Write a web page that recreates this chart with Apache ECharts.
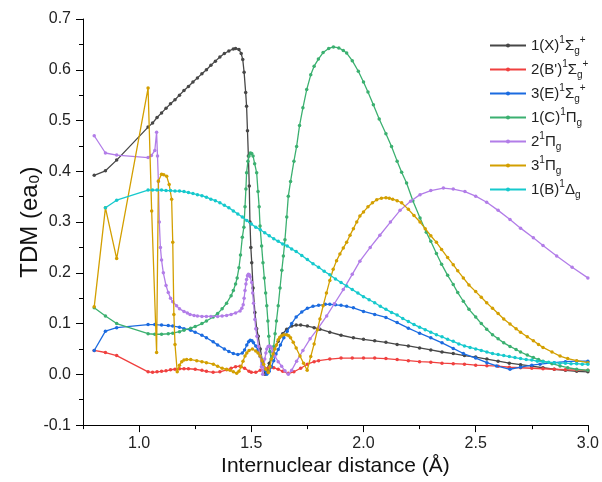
<!DOCTYPE html>
<html><head><meta charset="utf-8">
<script src="https://cdn.jsdelivr.net/npm/echarts@6/dist/echarts.min.js"></script>
<style>html,body{margin:0;padding:0;background:#fff}#c{width:602px;height:482px}</style>
</head><body><div id="c"></div>
<script>
// Series names (plain) and legend labels (rich text)
const seriesNames = ['1(X)1Σg+', "2(B')1Σg+", '3(E)1Σg+', '1(C)1Πg', '21Πg', '31Πg', '1(B)1Δg'];
const legendLabels = ['1(X){sup|1}Σ{sub|g}{sup|+}', "2(B'){sup|1}Σ{sub|g}{sup|+}", '3(E){sup|1}Σ{sub|g}{sup|+}',
  '1(C){sup|1}Π{sub|g}', '2{sup|1}Π{sub|g}', '3{sup|1}Π{sub|g}', '1(B){sup|1}Δ{sub|g}'];
const colors = ['#474747', '#f0403f', '#1b6be0', '#3bb070', '#b27de8', '#d39f00', '#16c9cd'];
const xTicks = [1.0, 1.5, 2.0, 2.5, 3.0];
const xMinorTicks = [0.75, 1.25, 1.75, 2.25, 2.75];

const sX = [[0.8,0.392],[0.85,0.401],[0.9,0.422],[1.04,0.487],[1.06,0.495],[1.08,0.506],[1.1,0.515],[1.12,0.524],[1.14,0.533],[1.16,0.541],[1.18,0.55],[1.2,0.559],[1.22,0.567],[1.24,0.576],[1.26,0.584],[1.28,0.592],[1.3,0.600],[1.32,0.609],[1.34,0.617],[1.36,0.625],[1.38,0.632],[1.4,0.637],[1.42,0.641],[1.43,0.642],[1.445,0.640],[1.455,0.632],[1.462,0.62],[1.468,0.595],[1.475,0.555],[1.479,0.528],[1.483,0.48],[1.487,0.43],[1.491,0.371],[1.494,0.30],[1.498,0.25],[1.502,0.22],[1.508,0.17],[1.516,0.122],[1.524,0.09],[1.531,0.075],[1.54,0.05],[1.55,0.025],[1.561,0.0],[1.57,0.01],[1.58,0.022],[1.598,0.043],[1.62,0.065],[1.64,0.08],[1.658,0.089],[1.68,0.095],[1.70,0.097],[1.72,0.097],[1.75,0.095],[1.78,0.092],[1.806,0.089],[1.85,0.083],[1.9,0.077],[1.955,0.072],[2.0,0.069],[2.05,0.066],[2.1,0.063],[2.15,0.059],[2.2,0.056],[2.25,0.052],[2.3,0.048],[2.35,0.044],[2.4,0.041],[2.45,0.037],[2.5,0.034],[2.55,0.030],[2.6,0.026],[2.65,0.022],[2.7,0.019],[2.75,0.016],[2.8,0.013],[2.85,0.010],[2.9,0.008],[2.95,0.006],[3.0,0.005]];
const sBp = [[0.8,0.047],[0.85,0.043],[0.9,0.037],[1.04,0.005],[1.06,0.004],[1.08,0.005],[1.1,0.006],[1.12,0.007],[1.14,0.009],[1.16,0.010],[1.18,0.011],[1.2,0.011],[1.22,0.011],[1.25,0.010],[1.28,0.008],[1.3,0.006],[1.33,0.004],[1.36,0.005],[1.39,0.009],[1.41,0.012],[1.43,0.015],[1.45,0.016],[1.47,0.012],[1.49,0.006],[1.50,0.004],[1.52,0.004],[1.54,0.008],[1.56,0.012],[1.58,0.013],[1.6,0.013],[1.62,0.010],[1.64,0.006],[1.665,0.002],[1.69,0.005],[1.72,0.012],[1.75,0.02],[1.78,0.025],[1.8,0.027],[1.85,0.030],[1.9,0.032],[1.95,0.032],[2.0,0.032],[2.05,0.032],[2.1,0.031],[2.15,0.029],[2.2,0.027],[2.25,0.025],[2.3,0.024],[2.35,0.022],[2.4,0.021],[2.45,0.020],[2.5,0.018],[2.55,0.017],[2.6,0.016],[2.65,0.014],[2.7,0.013],[2.75,0.012],[2.8,0.011],[2.85,0.010],[2.9,0.009],[2.95,0.0085],[3.0,0.008]];
const sE = [[0.8,0.047],[0.85,0.085],[0.9,0.092],[1.04,0.098],[1.07,0.098],[1.1,0.097],[1.13,0.096],[1.15,0.095],[1.18,0.093],[1.2,0.090],[1.23,0.087],[1.25,0.083],[1.28,0.077],[1.3,0.072],[1.33,0.064],[1.35,0.058],[1.38,0.050],[1.4,0.045],[1.42,0.041],[1.44,0.039],[1.46,0.042],[1.47,0.048],[1.48,0.058],[1.488,0.064],[1.495,0.067],[1.503,0.066],[1.51,0.062],[1.52,0.056],[1.53,0.048],[1.54,0.035],[1.55,0.02],[1.56,0.008],[1.569,0.0],[1.58,0.006],[1.59,0.015],[1.6,0.027],[1.61,0.04],[1.62,0.049],[1.63,0.058],[1.645,0.072],[1.66,0.085],[1.68,0.100],[1.70,0.113],[1.725,0.123],[1.75,0.130],[1.775,0.134],[1.8,0.136],[1.83,0.138],[1.85,0.138],[1.875,0.137],[1.9,0.136],[1.925,0.134],[1.955,0.131],[2.0,0.124],[2.05,0.118],[2.1,0.112],[2.15,0.102],[2.2,0.091],[2.25,0.081],[2.3,0.072],[2.35,0.062],[2.4,0.051],[2.445,0.041],[2.5,0.032],[2.55,0.023],[2.593,0.0165],[2.653,0.010],[2.7,0.014],[2.75,0.018],[2.787,0.020],[2.85,0.023],[2.9,0.025],[2.95,0.026],[3.0,0.026]];
const sC = [[0.8,0.131],[0.85,0.115],[0.9,0.100],[1.04,0.080],[1.07,0.079],[1.1,0.079],[1.13,0.080],[1.15,0.081],[1.18,0.084],[1.2,0.087],[1.23,0.091],[1.25,0.094],[1.28,0.100],[1.3,0.105],[1.33,0.113],[1.35,0.120],[1.37,0.129],[1.39,0.140],[1.41,0.155],[1.42,0.165],[1.43,0.178],[1.437,0.19],[1.445,0.21],[1.452,0.235],[1.46,0.27],[1.467,0.29],[1.472,0.33],[1.476,0.365],[1.479,0.397],[1.485,0.42],[1.49,0.43],[1.496,0.436],[1.502,0.435],[1.508,0.43],[1.515,0.415],[1.524,0.397],[1.53,0.36],[1.535,0.33],[1.539,0.292],[1.546,0.253],[1.552,0.22],[1.558,0.19],[1.564,0.16],[1.569,0.135],[1.574,0.105],[1.578,0.075],[1.583,0.045],[1.588,0.03],[1.594,0.035],[1.6,0.055],[1.606,0.08],[1.612,0.105],[1.62,0.135],[1.628,0.17],[1.636,0.205],[1.643,0.233],[1.65,0.265],[1.658,0.31],[1.665,0.351],[1.675,0.38],[1.69,0.42],[1.702,0.449],[1.715,0.49],[1.73,0.525],[1.747,0.561],[1.765,0.59],[1.78,0.607],[1.799,0.621],[1.82,0.634],[1.845,0.642],[1.866,0.645],[1.89,0.643],[1.91,0.638],[1.925,0.633],[1.95,0.618],[1.977,0.597],[2.0,0.576],[2.02,0.556],[2.044,0.531],[2.07,0.503],[2.1,0.474],[2.125,0.449],[2.15,0.42],[2.17,0.398],[2.192,0.377],[2.22,0.342],[2.252,0.308],[2.28,0.280],[2.3,0.262],[2.325,0.238],[2.348,0.217],[2.375,0.195],[2.4,0.177],[2.42,0.161],[2.445,0.144],[2.47,0.128],[2.5,0.113],[2.525,0.100],[2.549,0.089],[2.575,0.078],[2.6,0.070],[2.625,0.062],[2.653,0.055],[2.68,0.049],[2.7,0.044],[2.73,0.038],[2.757,0.033],[2.78,0.029],[2.8,0.026],[2.84,0.021],[2.876,0.0165],[2.91,0.013],[2.95,0.010],[3.0,0.008]];
const s2P = [[0.8,0.470],[0.85,0.436],[0.9,0.432],[1.04,0.427],[1.055,0.431],[1.07,0.441],[1.078,0.477],[1.082,0.43],[1.086,0.38],[1.09,0.30],[1.095,0.25],[1.1,0.225],[1.108,0.200],[1.12,0.175],[1.13,0.161],[1.14,0.150],[1.15,0.143],[1.167,0.135],[1.18,0.129],[1.2,0.124],[1.215,0.121],[1.227,0.118],[1.245,0.116],[1.26,0.115],[1.28,0.114],[1.3,0.114],[1.32,0.114],[1.35,0.114],[1.37,0.115],[1.39,0.116],[1.41,0.118],[1.43,0.121],[1.45,0.125],[1.458,0.130],[1.464,0.137],[1.468,0.15],[1.472,0.165],[1.476,0.178],[1.479,0.187],[1.483,0.194],[1.487,0.197],[1.491,0.196],[1.495,0.192],[1.502,0.181],[1.506,0.16],[1.51,0.14],[1.516,0.108],[1.52,0.09],[1.525,0.075],[1.532,0.055],[1.539,0.036],[1.545,0.015],[1.551,0.0],[1.556,0.015],[1.56,0.03],[1.565,0.042],[1.569,0.05],[1.575,0.055],[1.58,0.056],[1.585,0.055],[1.59,0.052],[1.597,0.045],[1.605,0.036],[1.62,0.025],[1.635,0.016],[1.65,0.007],[1.665,0.0],[1.68,0.008],[1.702,0.026],[1.73,0.047],[1.762,0.070],[1.8,0.092],[1.836,0.115],[1.87,0.139],[1.91,0.167],[1.95,0.197],[1.984,0.223],[2.03,0.250],[2.073,0.274],[2.12,0.300],[2.163,0.323],[2.21,0.341],[2.252,0.354],[2.3,0.362],[2.356,0.367],[2.4,0.365],[2.452,0.360],[2.5,0.351],[2.549,0.339],[2.6,0.323],[2.653,0.305],[2.7,0.288],[2.757,0.269],[2.8,0.254],[2.861,0.233],[2.93,0.211],[3.0,0.190]];
const s3P = [[0.8,0.133],[0.85,0.328],[0.9,0.228],[1.04,0.564],[1.056,0.322],[1.078,0.043],[1.086,0.381],[1.1,0.394],[1.11,0.393],[1.123,0.390],[1.134,0.374],[1.145,0.345],[1.15,0.26],[1.155,0.118],[1.16,0.059],[1.17,0.005],[1.18,0.018],[1.19,0.025],[1.2,0.028],[1.212,0.029],[1.23,0.029],[1.257,0.027],[1.28,0.025],[1.3,0.023],[1.331,0.020],[1.35,0.016],[1.37,0.012],[1.39,0.010],[1.405,0.008],[1.42,0.005],[1.435,0.002],[1.445,0.006],[1.455,0.015],[1.463,0.026],[1.472,0.036],[1.48,0.042],[1.49,0.047],[1.505,0.050],[1.52,0.046],[1.53,0.042],[1.539,0.036],[1.548,0.027],[1.555,0.020],[1.565,0.01],[1.576,0.0035],[1.583,0.015],[1.59,0.030],[1.597,0.040],[1.605,0.050],[1.612,0.058],[1.62,0.068],[1.627,0.073],[1.635,0.076],[1.645,0.078],[1.658,0.078],[1.667,0.076],[1.675,0.072],[1.687,0.063],[1.7,0.052],[1.717,0.036],[1.733,0.022],[1.749,0.008],[1.765,0.035],[1.78,0.06],[1.795,0.088],[1.806,0.109],[1.82,0.135],[1.835,0.160],[1.85,0.185],[1.865,0.207],[1.88,0.224],[1.895,0.237],[1.91,0.249],[1.925,0.260],[1.94,0.274],[1.955,0.287],[1.97,0.300],[1.984,0.312],[2.0,0.320],[2.02,0.330],[2.04,0.338],[2.059,0.344],[2.08,0.347],[2.1,0.348],[2.115,0.347],[2.13,0.345],[2.15,0.342],[2.17,0.338],[2.2,0.325],[2.225,0.313],[2.252,0.300],[2.275,0.287],[2.3,0.273],[2.325,0.260],[2.348,0.246],[2.375,0.230],[2.4,0.216],[2.42,0.204],[2.445,0.190],[2.47,0.176],[2.5,0.163],[2.525,0.152],[2.549,0.141],[2.575,0.130],[2.6,0.120],[2.625,0.109],[2.653,0.099],[2.68,0.090],[2.7,0.083],[2.73,0.074],[2.757,0.066],[2.78,0.059],[2.8,0.053],[2.84,0.044],[2.876,0.036],[2.91,0.031],[2.95,0.027],[3.0,0.023]];
const sB = [[0.85,0.328],[0.9,0.343],[1.04,0.363],[1.06,0.363],[1.08,0.363],[1.1,0.363],[1.12,0.362],[1.14,0.362],[1.16,0.361],[1.18,0.361],[1.2,0.360],[1.22,0.358],[1.24,0.356],[1.26,0.354],[1.28,0.352],[1.3,0.349],[1.32,0.345],[1.34,0.342],[1.36,0.338],[1.38,0.333],[1.4,0.328],[1.42,0.322],[1.44,0.316],[1.46,0.310],[1.48,0.303],[1.5,0.296],[1.52,0.290],[1.54,0.285],[1.56,0.279],[1.58,0.273],[1.6,0.267],[1.62,0.262],[1.64,0.257],[1.66,0.253],[1.68,0.247],[1.7,0.242],[1.725,0.234],[1.75,0.226],[1.775,0.218],[1.8,0.211],[1.825,0.203],[1.85,0.196],[1.875,0.188],[1.9,0.181],[1.925,0.174],[1.95,0.167],[1.975,0.160],[2.0,0.153],[2.025,0.147],[2.05,0.141],[2.075,0.134],[2.1,0.128],[2.125,0.122],[2.15,0.117],[2.175,0.110],[2.2,0.104],[2.225,0.098],[2.25,0.093],[2.275,0.088],[2.3,0.083],[2.325,0.078],[2.35,0.074],[2.375,0.069],[2.4,0.065],[2.425,0.060],[2.45,0.056],[2.475,0.053],[2.5,0.050],[2.525,0.047],[2.55,0.044],[2.575,0.041],[2.6,0.039],[2.625,0.037],[2.65,0.035],[2.675,0.033],[2.7,0.031],[2.725,0.029],[2.75,0.028],[2.775,0.026],[2.8,0.025],[2.825,0.024],[2.85,0.023],[2.875,0.022],[2.9,0.022],[2.925,0.021],[2.95,0.021],[2.975,0.020],[3.0,0.020]];
const allData = [sX, sBp, sE, sC, s2P, s3P, sB];

const chart = echarts.init(document.getElementById('c'), null, {renderer: 'canvas'});
const font = '"Liberation Sans", Arial, sans-serif';
const legendMap = {};
seriesNames.forEach((n, i) => legendMap[n] = legendLabels[i]);

chart.setOption({
  animation: false,
  backgroundColor: '#fff',
  textStyle: {fontFamily: font},
  grid: {left: 83, right: 14, top: 19, bottom: 56, containLabel: false},
  legend: {
    orient: 'vertical', left: 484, top: 30, itemWidth: 36, itemHeight: 5, itemGap: 3,
    data: seriesNames,
    formatter: n => legendMap[n],
    textStyle: {fontFamily: font, fontSize: 15, color: '#222', lineHeight: 21,
      rich: {
        sup: {fontFamily: font, fontSize: 10, color: '#222', verticalAlign: 'top', lineHeight: 21},
        sub: {fontFamily: font, fontSize: 10, color: '#222', verticalAlign: 'bottom', lineHeight: 14, padding: [8, 0, 0, 0]}
      }}
  },
  xAxis: [{
    type: 'value', min: 0.75, max: 3.0,
    name: 'Internuclear distance (Å)', nameLocation: 'middle', nameGap: 28,
    nameTextStyle: {fontFamily: font, fontSize: 21, color: '#111'},
    axisLine: {show: true, onZero: false, lineStyle: {color: '#000', width: 1}},
    axisTick: {show: true, length: 7, customValues: xTicks, lineStyle: {color: '#000'}},
    axisLabel: {customValues: xTicks, formatter: v => v.toFixed(1), fontSize: 16, color: '#222', margin: 10, fontFamily: font},
    splitLine: {show: false}
  }, {
    type: 'value', min: 0.75, max: 3.0, position: 'bottom',
    axisLine: {show: false, onZero: false},
    axisTick: {show: true, length: 4, customValues: xMinorTicks, lineStyle: {color: '#000'}},
    axisLabel: {show: false},
    splitLine: {show: false}
  }],
  yAxis: {
    type: 'value', min: -0.1, max: 0.7, interval: 0.1,
    name: 'TDM (ea₀)', nameLocation: 'middle', nameGap: 41, nameRotate: 90, nameMoveOverlap: false,
    nameTextStyle: {fontFamily: font, fontSize: 24, color: '#111'},
    axisLine: {show: true, onZero: false, lineStyle: {color: '#000', width: 1}},
    axisTick: {show: true, length: 7, lineStyle: {color: '#000'}},
    minorTick: {show: true, splitNumber: 2, length: 4, lineStyle: {color: '#000'}},
    axisLabel: {formatter: v => v.toFixed(1), fontSize: 16, color: '#222', margin: 12, fontFamily: font},
    splitLine: {show: false}
  },
  series: seriesNames.map((n, i) => ({
    name: n, type: 'line', data: allData[i], xAxisIndex: 0,
    symbol: 'circle', symbolSize: 3.5, showSymbol: true,
    lineStyle: {color: colors[i], width: 1.3},
    itemStyle: {color: colors[i]},
    clip: true, z: 2 + i
  }))
});
</script></body></html>
